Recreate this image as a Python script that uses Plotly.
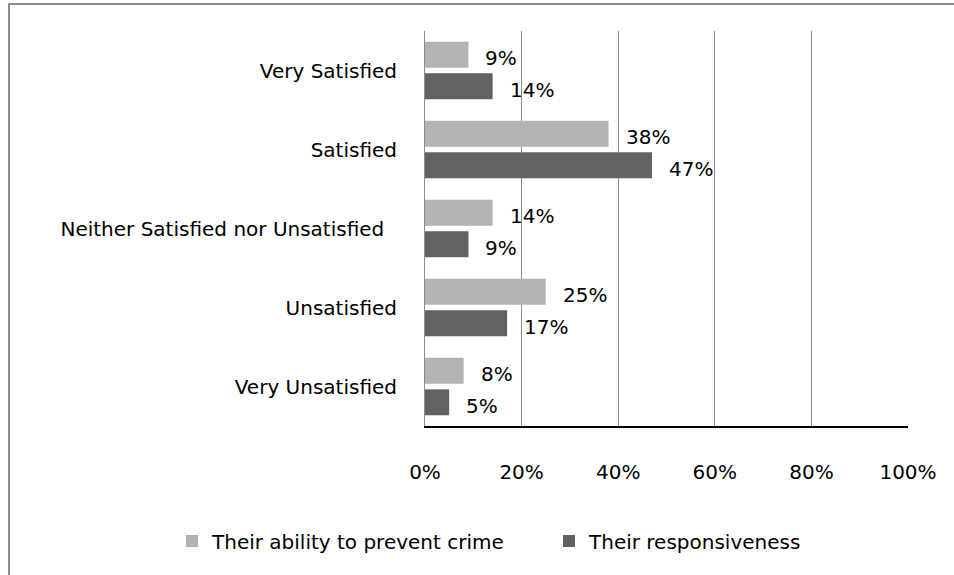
import plotly.graph_objects as go

categories = ["Very Satisfied", "Satisfied", "Neither Satisfied nor Unsatisfied",
              "Unsatisfied", "Very Unsatisfied"]
category_labels = ["Very Satisfied", "Satisfied",
                   "Neither Satisfied nor Unsatisfied\u00a0\u00a0",
                   "Unsatisfied", "Very Unsatisfied"]
prevent_crime = [9, 38, 14, 25, 8]
responsiveness = [14, 47, 9, 17, 5]
x_ticks = [0, 20, 40, 60, 80, 100]
x_tick_labels = ["0%", "20%", "40%", "60%", "80%", "100%"]

FONT = "'DejaVu Sans', Verdana, sans-serif"
FS = 20
W, H = 954, 575
L, R, T, B = 425, 46, 31, 149
plot_h = H - T - B
plot_w = W - L - R

series = [
    ("Their ability to prevent crime", prevent_crime, "#b3b3b3", 13),
    ("Their responsiveness", responsiveness, "#626262", -19),
]

fig = go.Figure()
annotations = []
for name, vals, color, dy in series:
    fig.add_trace(go.Bar(
        y=categories, x=vals, orientation="h", name=name,
        marker=dict(color=color, line=dict(width=0)),
        hovertemplate="%{y}: %{x}%<extra>" + name + "</extra>",
    ))
    # value labels placed just beyond each bar end
    for cat, v in zip(categories, vals):
        annotations.append(dict(
            x=v, y=cat, xref="x", yref="y", text=f"{v}%", showarrow=False,
            xanchor="left", yanchor="middle", xshift=15, yshift=dy,
            font=dict(family=FONT, size=FS, color="#000"),
        ))

fig.update_layout(
    width=W, height=H,
    margin=dict(l=L, r=R, t=T, b=B),
    paper_bgcolor="white", plot_bgcolor="white",
    barmode="group", bargap=0.2, bargroupgap=0.18,
    font=dict(family=FONT, size=FS, color="#000"),
    xaxis=dict(range=[0, 100], tickvals=x_ticks, ticktext=x_tick_labels,
               showgrid=True, gridcolor="#8c8c8c", gridwidth=1,
               zeroline=False, showline=True, linecolor="#000", linewidth=2,
               ticks="", ticklabelstandoff=27,
               tickfont=dict(family=FONT, size=FS, color="#000")),
    yaxis=dict(autorange="reversed", showgrid=False, zeroline=False,
               tickmode="array", tickvals=categories, ticktext=category_labels,
               showline=True, linecolor="#8c8c8c", linewidth=1,
               ticks="", ticklabelstandoff=23,
               tickfont=dict(family=FONT, size=FS, color="#000")),
    legend=dict(orientation="h", x=(172 - L) / plot_w, xanchor="left",
                y=-(541 - (H - B)) / plot_h, yanchor="middle",
                font=dict(family=FONT, size=FS, color="#000"),
                traceorder="normal", itemclick=False, itemdoubleclick=False,
                entrywidthmode="pixels", entrywidth=332),
    showlegend=True,
    annotations=annotations,
    shapes=[dict(type="rect", xref="paper", yref="paper",
                 x0=-(L - 9) / plot_w, x1=(W - L + 20) / plot_w,
                 y0=-(B + 20) / plot_h, y1=1 + (T - 4) / plot_h,
                 line=dict(color="#8c8c8c", width=2), layer="below")],
)

fig.write_html("out.html")
